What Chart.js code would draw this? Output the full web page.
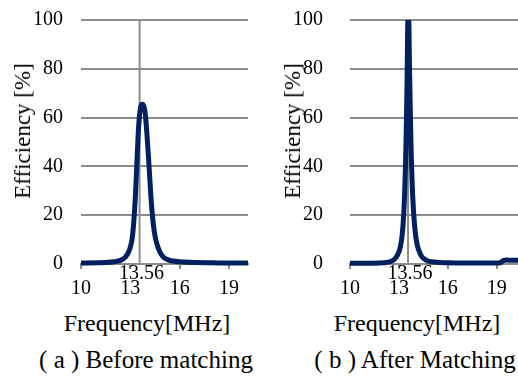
<!DOCTYPE html>
<html>
<head>
<meta charset="utf-8">
<script src="https://cdn.jsdelivr.net/npm/chart.js@4.4.1/dist/chart.umd.min.js"></script>
<style>
  body { margin: 0; background: #fff; overflow: hidden; }
  #wrap { position: relative; width: 518px; height: 378px; overflow: hidden;
          font-family: "Liberation Serif", "Times New Roman", serif; color: #000; }
  canvas { position: absolute; top: 0; }
  .lbl { position: absolute; white-space: nowrap; transform: translate(-50%, 0); }
  .ytitle { position: absolute; white-space: nowrap; font-size: 23px; line-height: 26px;
            transform: translate(-50%, -50%) rotate(-90deg); }
  .xtitle { font-size: 24px; line-height: 26px; top: 310px; }
  .caption { font-size: 25px; line-height: 28px; top: 346px; }
</style>
</head>
<body>
<div id="wrap">
  <canvas id="chartA" width="259" height="300" style="left:0"></canvas>
  <canvas id="chartB" width="259" height="300" style="left:259px"></canvas>

  <div class="ytitle" style="left:23px; top:131px">Efficiency [%]</div>
  <div class="ytitle" style="left:293px; top:131px">Efficiency [%]</div>
  <div class="lbl xtitle" style="left:147px">Frequency[MHz]</div>
  <div class="lbl xtitle" style="left:417px">Frequency[MHz]</div>
  <div class="lbl caption" style="left:146px">( a ) Before matching</div>
  <div class="lbl caption" style="left:415px">( b ) After Matching</div>
</div>

<script>
// axis ticks
const xTicks = [10, 13, 16, 19];
const yTicks = [0, 20, 40, 60, 80, 100];
const markerFreq = [13.56];

// (a) before matching
const freqBefore = [10, 11, 11.5, 12, 12.4, 12.7, 12.9, 13.0, 13.1, 13.2, 13.3, 13.4, 13.5, 13.6, 13.7, 13.75,
  13.8, 13.9, 14.0, 14.1, 14.2, 14.3, 14.4, 14.5, 14.6, 14.8, 15.0, 15.3, 15.6, 16, 17, 18, 19, 20.2];
const effBefore = [0.4, 0.5, 0.6, 0.9, 1.5, 2.8, 5, 7, 10, 16.5, 27, 42, 56, 63.5, 65.5, 65.5,
  65, 62, 54, 44, 33, 23, 16, 11.5, 8.5, 4.8, 2.9, 1.7, 1.2, 0.9, 0.6, 0.5, 0.4, 0.4];

// (b) after matching
const freqAfter = [10, 11, 12, 12.5, 12.8, 13.0, 13.1, 13.2, 13.3, 13.35, 13.4, 13.45, 13.5, 13.55, 13.6,
  13.65, 13.7, 13.75, 13.8, 13.85, 13.9, 14.0, 14.1, 14.2, 14.4, 14.7, 15, 16, 17, 18, 19, 19.2, 19.4, 19.6, 20, 20.4];
const effAfter = [0.3, 0.3, 0.5, 1.0, 2.5, 5, 7.5, 12, 21, 29, 40, 55, 75, 100, 100,
  80, 62, 46, 35, 27, 21, 13, 8.5, 6, 3, 1.5, 0.9, 0.5, 0.4, 0.4, 0.4, 0.5, 1.4, 1.6, 1.5, 1.5];

const GRID = '#8c8c8c';
const CURVE = '#002060';
const FONT = "'Liberation Serif', 'Times New Roman', serif";

const markerLabel = {
  id: 'markerLabel',
  afterDraw(chart) {
    const ctx = chart.ctx;
    const x = chart.scales.x.getPixelForValue(markerFreq[0]);
    ctx.save();
    ctx.font = '20px ' + FONT;
    ctx.fillStyle = '#000';
    ctx.textAlign = 'center';
    ctx.textBaseline = 'middle';
    ctx.fillText(String(markerFreq[0]), x + 2, chart.chartArea.bottom + 10);
    ctx.restore();
  }
};

function makePanel(id, freq, eff, xMax, yWidth, yGap, rightPad) {
  const points = freq.map((f, i) => ({ x: f, y: eff[i] }));
  const marker = [{ x: markerFreq[0], y: yTicks[0] }, { x: markerFreq[0], y: yTicks[yTicks.length - 1] }];

  return new Chart(document.getElementById(id), {
    type: 'line',
    data: {
      datasets: [
        {
          data: points,
          borderColor: CURVE,
          borderWidth: 5,
          pointRadius: 0,
          cubicInterpolationMode: 'monotone',
          borderJoinStyle: 'round',
          clip: { left: 0, top: 0, right: 0, bottom: 5 },
          order: 1
        },
        {
          data: marker,
          borderColor: GRID,
          borderWidth: 2,
          pointRadius: 0,
          order: 2
        }
      ]
    },
    options: {
      responsive: false,
      animation: false,
      layout: { padding: { top: 20, right: rightPad, bottom: 0, left: 0 } },
      plugins: { legend: { display: false }, tooltip: { enabled: false } },
      scales: {
        x: {
          type: 'linear',
          min: 10,
          max: xMax,
          afterBuildTicks: s => { s.ticks = xTicks.map(v => ({ value: v })); },
          afterFit: s => { s.height = 36; },
          grid: { drawOnChartArea: false, drawTicks: true, tickLength: 5, color: GRID, lineWidth: 2 },
          border: { display: true, color: GRID, width: 2 },
          ticks: { color: '#000', padding: 8, maxRotation: 0, font: { family: FONT, size: 20 } }
        },
        y: {
          min: 0,
          max: 100,
          afterBuildTicks: s => { s.ticks = yTicks.map(v => ({ value: v })); },
          afterFit: s => { s.width = yWidth; },
          // gap between labels and plot comes from an invisible tick mark
          grid: { color: GRID, lineWidth: 2, drawTicks: true, tickLength: yGap, tickColor: 'rgba(0,0,0,0)' },
          border: { display: false },
          ticks: { color: '#000', padding: 0, font: { family: FONT, size: 20 } }
        }
      }
    },
    plugins: [markerLabel]
  });
}

document.fonts.load("20px 'Liberation Serif'").then(() => {
  makePanel('chartA', freqBefore, effBefore, 20.15, 81, 18, 11);
  makePanel('chartB', freqAfter, effAfter, 20.3, 91, 27, 0);
});
</script>
</body>
</html>
